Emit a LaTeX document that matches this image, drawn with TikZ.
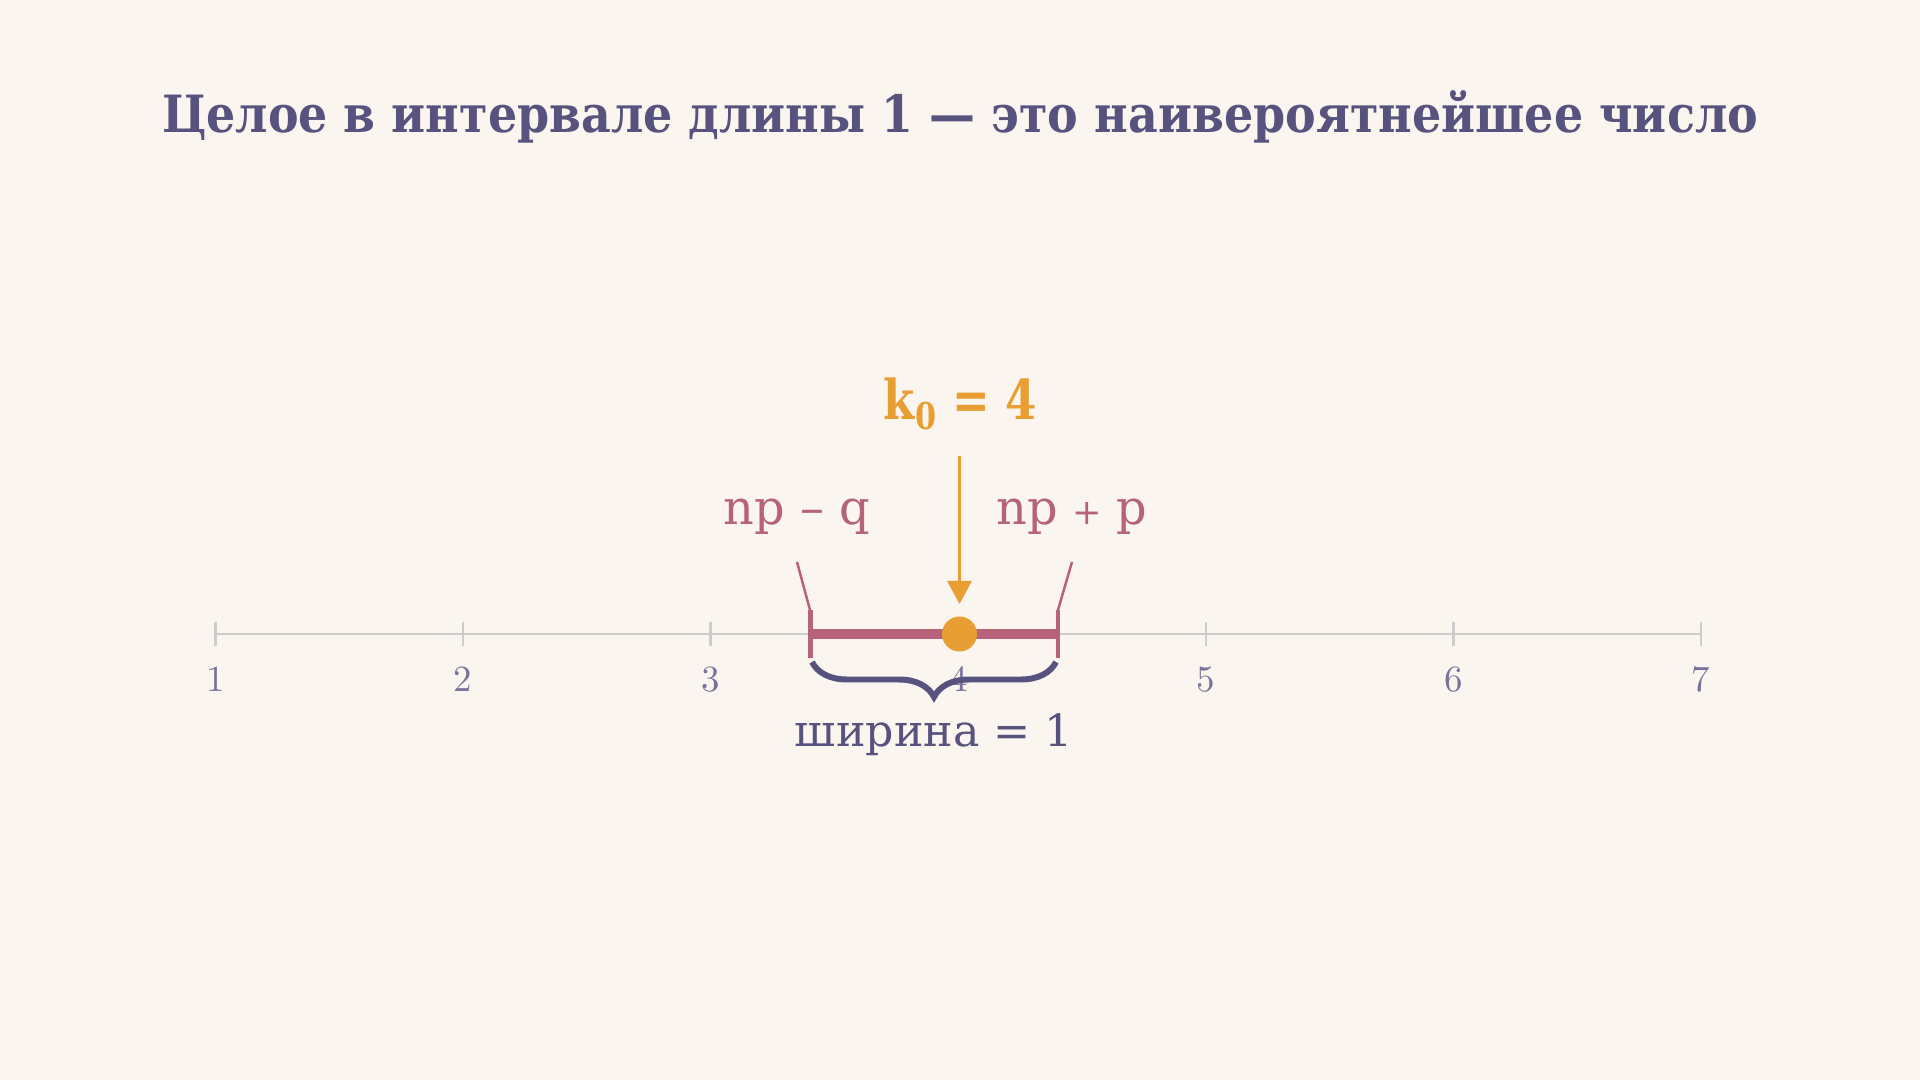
\documentclass[tikz,border=0pt]{standalone}
\usepackage{fontspec}
\setmainfont{DejaVu Serif}
\newfontfamily\lmfont{lmroman10-regular}[Extension=.otf]
\usetikzlibrary{arrows.meta,decorations.pathreplacing}
\definecolor{bgc}{HTML}{FAF5EE}
\definecolor{titlec}{HTML}{57527E}
\definecolor{intc}{HTML}{B5627A}
\definecolor{orc}{HTML}{E99E34}
\definecolor{axc}{HTML}{CDCBCC}
\definecolor{tickc}{HTML}{77739A}
\tikzset{
  ticklab/.style={anchor=base, text=tickc, font=\lmfont\fontsize{10.5}{12}\selectfont, inner sep=0pt},
  axtick/.style={draw=axc, line width=0.7pt},
  intlab/.style={anchor=base, text=intc, font=\fontsize{13.6}{16}\selectfont, inner sep=0pt},
  leader/.style={draw=intc, line width=0.7pt},
}
\begin{document}
\begin{tikzpicture}[x=0.01cm,y=-0.01cm]
\useasboundingbox[fill=bgc] (0,0) rectangle (1920,1080);
% title
\node[anchor=base, text=titlec, inner sep=0pt, font=\bfseries\fontsize{14.6}{17}\selectfont] (title) at (960,133) {\scalebox{0.895}[1]{Целое в интервале длины 1 — это наивероятнейшее число}};
% axis
\coordinate (a1) at (215.5,634);
\coordinate (a7) at (1701,634);
\draw[draw=axc, line width=0.8pt] (a1) -- (a7);
\foreach \i in {1,...,7}{
  \coordinate (t\i) at ({215.5+(\i-1)*247.58},634);
  \draw[axtick] ([yshift=-12*0.01cm]t\i) -- ([yshift=12*0.01cm]t\i);
  \node[ticklab] (l\i) at ({215.5+(\i-1)*247.58},692) {\i};
}
% interval
\coordinate (L) at (810.5,634);
\coordinate (R) at (1058,634);
\draw[draw=intc, line width=2.85pt] (L) -- (R);
\draw[draw=intc, line width=1.2pt] (810.5,610) -- (810.5,658);
\draw[draw=intc, line width=1.2pt] (1058,610) -- (1058,658);
% leader lines and labels
\coordinate (lt) at (797,562);
\coordinate (lb) at (810,610);
\coordinate (rt) at (1072,562);
\coordinate (rb) at (1058,610);
\draw[leader] (lt) -- (lb);
\draw[leader] (rt) -- (rb);
\node[intlab] (npq) at (797,525) {np – q};
\node[intlab] (npp) at (1072,525) {np\hspace{0.3em}{\fontsize{10}{12}\selectfont +}\hspace{0.3em}p};
% dot
\node[circle, fill=orc, minimum size=35*0.01cm, inner sep=0pt] (dot) at (959.5,634) {};
% k0 label and arrow
\node[anchor=base, text=orc, inner sep=0pt, font=\bfseries\fontsize{15.6}{18}\selectfont] (k0) at (960,420) {\scalebox{0.82}[1]{k\kern0.03em\raisebox{-0.18em}{\fontsize{10.5}{12}\selectfont 0}\ = 4}};
\coordinate (as) at (959.5,456);
\coordinate (ae) at (959.5,604);
\draw[draw=orc, line width=0.85pt, -{Triangle[width=0.24cm,length=0.23cm]}] (as) -- (ae);
% brace
\coordinate (bl) at (812,662);
\coordinate (br) at (1056,662);
\draw[draw=titlec, line width=1.7pt, decorate, decoration={brace, mirror, amplitude=0.35cm}] (bl) -- (br);
\node[anchor=base, text=titlec, inner sep=0pt, font=\fontsize{12.6}{15}\selectfont] (w) at (934,747) {ширина = 1};
\end{tikzpicture}
\end{document}
